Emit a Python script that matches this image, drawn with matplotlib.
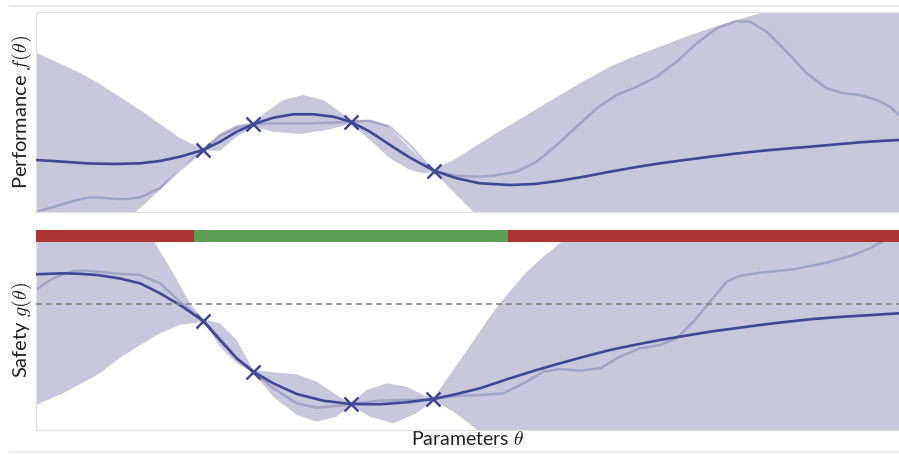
import matplotlib
matplotlib.use("Agg")
import matplotlib.pyplot as plt
from matplotlib.lines import Line2D

# ---------------- data ----------------
# top panel: performance f(theta)
f_mean_x = [0.00, 0.24, 0.54, 0.79, 1.04, 1.24, 1.44, 1.673, 1.84, 2.007, 2.173, 2.373, 2.573,
            2.773, 2.973, 3.147, 3.34, 3.54, 3.74, 3.98, 4.207, 4.44, 4.74, 4.99, 5.24, 5.49,
            5.74, 5.99, 6.24, 6.49, 6.74, 6.99, 7.24, 7.49, 7.74, 7.99, 8.24, 8.44, 8.63]
f_mean_y = [0.52, 0.505, 0.485, 0.48, 0.487, 0.51, 0.553, 0.62, 0.703, 0.803, 0.877, 0.943, 0.977,
            0.977, 0.953, 0.903, 0.803, 0.67, 0.543, 0.413, 0.337, 0.287, 0.27, 0.28, 0.313, 0.355,
            0.403, 0.447, 0.487, 0.52, 0.553, 0.583, 0.61, 0.633, 0.653, 0.675, 0.697, 0.71, 0.72]

f_true_x = [0.00, 0.14, 0.27, 0.41, 0.54, 0.69, 0.81, 0.94, 1.04, 1.24, 1.44, 1.673, 1.84, 2.007,
            2.173, 2.373, 2.707, 2.973, 3.147, 3.34, 3.54, 3.74, 3.873, 3.98, 4.207, 4.44, 4.573,
            4.807, 5.007, 5.207, 5.407, 5.607, 5.807, 6.007, 6.207, 6.407, 6.607, 6.807, 7.007,
            7.14, 7.307, 7.507, 7.707, 7.907, 8.073, 8.24, 8.407, 8.54, 8.63]
f_true_y = [0.003, 0.04, 0.08, 0.12, 0.147, 0.14, 0.13, 0.132, 0.147, 0.237, 0.42, 0.62, 0.76, 0.843,
            0.877, 0.887, 0.887, 0.893, 0.903, 0.913, 0.853, 0.67, 0.52, 0.413, 0.36, 0.353, 0.363,
            0.403, 0.503, 0.67, 0.853, 1.037, 1.17, 1.253, 1.353, 1.503, 1.687, 1.837, 1.91,
            1.903, 1.803, 1.603, 1.387, 1.237, 1.187, 1.17, 1.12, 1.053, 0.97]

f_up_x = [0.00, 0.27, 0.44, 0.61, 0.84, 1.04, 1.24, 1.44, 1.673, 1.84, 2.007, 2.173, 2.307,
          2.473, 2.673, 2.873, 3.04, 3.147, 3.34, 3.507, 3.673, 3.84, 3.98, 4.207, 4.44, 4.74,
          4.99, 5.24, 5.49, 5.74, 5.99, 6.24, 6.49, 6.74, 6.99, 7.24, 7.64, 8.14, 8.63]
f_up_y = [1.593, 1.47, 1.39, 1.297, 1.15, 1.02, 0.88, 0.74, 0.627, 0.787, 0.87, 0.893, 1.003,
          1.12, 1.17, 1.12, 1.003, 0.92, 0.92, 0.87, 0.703, 0.537, 0.427, 0.537, 0.687, 0.87,
          1.02, 1.17, 1.315, 1.453, 1.56, 1.653, 1.75, 1.837, 1.915, 1.987, 2.10, 2.18, 2.24]

f_lo_x = [0.00, 0.64, 1.04, 1.24, 1.44, 1.673, 1.84, 2.007, 2.173, 2.373, 2.64, 2.907, 3.147,
          3.34, 3.54, 3.74, 3.873, 3.98, 4.173, 4.373, 4.64, 8.63]
f_lo_y = [-0.63, -0.28, 0.037, 0.22, 0.437, 0.613, 0.613, 0.753, 0.853, 0.803, 0.78, 0.82, 0.88,
          0.72, 0.537, 0.42, 0.387, 0.40, 0.203, 0.003, -0.28, -0.88]

f_obs_x = [1.673, 2.173, 3.147, 3.98]
f_obs_y = [0.62, 0.877, 0.903, 0.413]

# bottom panel: safety g(theta)
g_mean_x = [0.00, 0.27, 0.44, 0.61, 0.84, 1.04, 1.24, 1.44, 1.673, 1.84, 2.007, 2.173, 2.373,
            2.607, 2.873, 3.147, 3.44, 3.707, 3.973, 4.207, 4.44, 4.74, 4.99, 5.24, 5.49, 5.74,
            5.99, 6.24, 6.49, 6.74, 6.99, 7.24, 7.49, 7.74, 7.99, 8.24, 8.44, 8.63]
g_mean_y = [1.557, 1.567, 1.562, 1.55, 1.515, 1.467, 1.367, 1.25, 1.09, 0.90, 0.717, 0.583, 0.467,
            0.36, 0.293, 0.26, 0.257, 0.277, 0.31, 0.36, 0.417, 0.517, 0.595, 0.667, 0.735, 0.80,
            0.852, 0.90, 0.942, 0.983, 1.017, 1.05, 1.08, 1.107, 1.127, 1.143, 1.155, 1.167]

g_true_x = [0.00, 0.14, 0.27, 0.37, 0.49, 0.61, 0.79, 1.04, 1.24, 1.44, 1.673, 1.84, 2.007,
            2.173, 2.373, 2.607, 2.807, 3.007, 3.147, 3.44, 3.707, 3.973, 4.207, 4.44, 4.673,
            4.907, 5.073, 5.24, 5.44, 5.64, 5.84, 6.04, 6.24, 6.407, 6.573, 6.74, 6.907, 7.04,
            7.24, 7.573, 7.907, 8.173, 8.34, 8.473, 8.63]
g_true_y = [1.40, 1.50, 1.555, 1.59, 1.595, 1.583, 1.565, 1.55, 1.467, 1.283, 1.09, 0.917, 0.717,
            0.583, 0.417, 0.267, 0.223, 0.24, 0.26, 0.293, 0.30, 0.31, 0.34, 0.35, 0.367,
            0.483, 0.583, 0.61, 0.593, 0.617, 0.733, 0.817, 0.85, 0.917, 1.083, 1.283, 1.483, 1.543,
            1.573, 1.607, 1.673, 1.75, 1.817, 1.89, 1.95]

g_up_x = [0.00, 0.64, 1.173, 1.373, 1.54, 1.673, 1.84, 2.007, 2.173, 2.373, 2.607, 2.807, 3.007,
          3.147, 3.307, 3.507, 3.707, 3.873, 3.973, 4.173, 4.373, 4.573, 4.74, 4.91, 5.07, 5.24,
          5.64, 6.64, 8.63]
g_up_y = [3.30, 2.40, 1.90, 1.567, 1.267, 1.107, 1.067, 0.90, 0.60, 0.577, 0.557, 0.483, 0.35,
          0.267, 0.40, 0.467, 0.433, 0.35, 0.317, 0.60, 0.89, 1.183, 1.39, 1.583, 1.73, 1.867,
          2.25, 2.90, 3.70]

g_lo_x = [0.00, 0.27, 0.61, 0.84, 1.04, 1.24, 1.44, 1.673, 1.84, 2.007, 2.173, 2.373, 2.607,
          2.807, 3.007, 3.147, 3.34, 3.573, 3.807, 3.973, 4.173, 4.373, 4.44, 4.64, 8.63]
g_lo_y = [0.25, 0.367, 0.55, 0.72, 0.85, 0.967, 1.05, 1.083, 0.833, 0.667, 0.573, 0.333, 0.15,
          0.083, 0.133, 0.25, 0.133, 0.067, 0.167, 0.30, 0.183, 0.033, -0.017, -0.20, -0.90]

g_obs_x = [1.673, 2.173, 3.147, 3.973]
g_obs_y = [1.09, 0.583, 0.26, 0.31]

threshold = 1.257
safe_edges = [0.0, 1.583, 4.723, 8.63]
safe_flags = [False, True, False]

# ---------------- styling ----------------
BAND = '#c9c7db'
MEAN = '#3f4896'
SPINE = '#e2e2e2'
RED = '#ae3434'
GREEN = '#5d9e57'
XMAX = 8.63

plt.rcParams['font.family'] = ['Lato', 'DejaVu Sans']
plt.rcParams['mathtext.fontset'] = 'cm'

fig = plt.figure(figsize=(8.99, 4.55), dpi=100)
ax1 = fig.add_axes([36/899, 243/455, 863/899, 200/455])
ax2 = fig.add_axes([36/899, 25/455, 863/899, 200/455])


def band(ax, ux, uy, lx, ly):
    px = list(ux) + list(lx)[::-1]
    py = list(uy) + list(ly)[::-1]
    ax.fill(px, py, color=BAND, lw=0, zorder=1)


# top panel
band(ax1, f_up_x, f_up_y, f_lo_x, f_lo_y)
ax1.plot(f_true_x, f_true_y, color=MEAN, alpha=0.28, lw=1.8, zorder=2)
ax1.plot(f_mean_x, f_mean_y, color=MEAN, lw=1.9, zorder=3)
ax1.plot(f_obs_x, f_obs_y, ls='none', marker='x', ms=10, mew=1.8, color=MEAN, zorder=4)
ax1.set_xlim(0, XMAX)
ax1.set_ylim(0, 2.0)

# bottom panel
band(ax2, g_up_x, g_up_y, g_lo_x, g_lo_y)
ax2.plot(g_true_x, g_true_y, color=MEAN, alpha=0.28, lw=1.8, zorder=2)
ax2.plot(g_mean_x, g_mean_y, color=MEAN, lw=1.9, zorder=3)
ax2.plot(g_obs_x, g_obs_y, ls='none', marker='x', ms=10, mew=1.8, color=MEAN, zorder=4)
ax2.axhline(threshold, color='#888888', ls=(0, (3.5, 2.5)), lw=1.2, zorder=3)
for i, ok in enumerate(safe_flags):
    ax2.fill_between([safe_edges[i], safe_edges[i + 1]], 1.883, 2.0,
                     color=GREEN if ok else RED, lw=0, zorder=5)
ax2.set_xlim(0, XMAX)
ax2.set_ylim(0, 2.0)

for ax in (ax1, ax2):
    ax.set_xticks([])
    ax.set_yticks([])
    for s in ax.spines.values():
        s.set_color(SPINE)
        s.set_linewidth(0.9)
    ax.spines['right'].set_visible(False)
ax2.spines['top'].set_visible(False)

ax1.set_ylabel(r'Performance $f(\theta)$', fontsize=14.5, color='#222222')
ax1.yaxis.set_label_coords(-0.002, 0.5)
ax2.set_ylabel(r'Safety $g(\theta)$', fontsize=14.5, color='#222222')
ax2.yaxis.set_label_coords(-0.002, 0.5)
ax2.set_xlabel(r'Parameters $\theta$', fontsize=14, color='#222222')
ax2.xaxis.set_label_coords(0.5, -0.002)

# faint frame lines of the original figure
fig.add_artist(Line2D([10/899, 1], [1 - 6/455, 1 - 6/455], color='#e6e6e6', lw=1.5))
fig.add_artist(Line2D([10/899, 1], [1 - 452/455, 1 - 452/455], color='#eeeeee', lw=1.5))

fig.savefig('out.png', dpi=100)
